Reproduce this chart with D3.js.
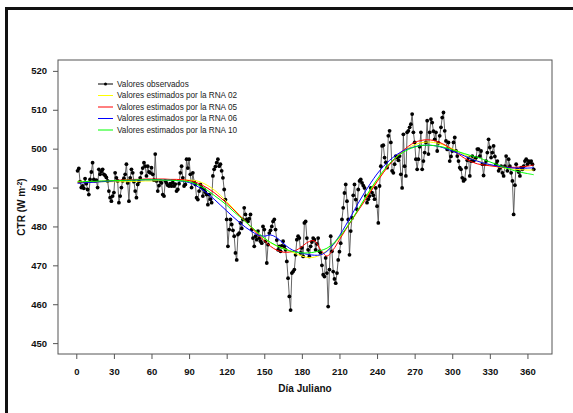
<!DOCTYPE html>
<html><head><meta charset="utf-8">
<script src="https://cdn.jsdelivr.net/npm/d3@7"></script>
<style>body{margin:0;background:#fff}svg{display:block;font-family:"Liberation Sans",Arial,sans-serif}</style>
</head><body>
<script>
// Observed daily values, days 1..365
const observed = [
494.3,494.9,491.5,490.0,490.4,489.8,492.3,491.0,489.5,488.2,
492.1,494.0,496.4,492.1,491.7,491.9,490.0,494.7,493.4,494.1,
494.7,493.4,493.1,492.6,491.7,489.1,487.4,486.5,487.8,488.7,
493.8,492.5,491.7,486.1,487.8,490.0,491.7,492.4,493.4,496.0,
491.2,486.5,492.5,494.7,493.8,491.5,489.1,487.4,490.8,491.5,
492.5,493.8,495.0,496.4,495.5,493.0,495.5,494.0,493.8,495.1,
493.4,491.9,498.6,491.7,489.1,490.5,491.7,491.2,488.2,487.8,
491.7,491.2,490.6,490.4,491.0,490.4,491.3,490.4,490.9,489.1,
489.5,491.0,493.8,495.5,492.5,490.4,490.8,497.3,495.0,497.3,
493.4,490.0,493.8,491.5,490.8,487.4,486.9,489.1,490.8,490.0,
487.8,489.5,488.8,488.2,485.6,488.2,487.0,486.1,493.0,494.7,
495.4,496.4,497.3,495.5,496.0,494.3,492.5,489.5,486.9,481.8,
474.9,479.2,481.8,480.5,479.0,477.5,473.2,471.4,477.9,478.3,
480.9,479.5,481.8,484.8,483.1,481.8,481.3,482.0,483.1,479.2,
477.0,474.9,477.5,476.6,478.8,477.0,476.2,475.7,480.0,479.2,
476.2,470.6,475.3,478.3,479.0,480.0,481.3,481.8,479.2,476.5,
474.0,474.9,473.6,475.0,476.2,474.9,474.0,471.0,466.7,462.0,
458.5,468.0,468.4,468.9,472.7,476.6,477.5,477.0,473.2,474.5,
472.3,480.9,481.3,477.0,474.0,472.3,474.9,476.0,477.0,476.6,
474.0,475.5,477.0,473.6,473.2,470.0,467.6,467.1,471.9,468.0,
459.4,468.9,477.5,473.6,468.4,466.5,465.4,468.0,471.4,473.5,
475.7,481.8,484.8,488.6,490.8,486.5,481.8,472.7,478.8,482.2,
488.0,490.8,486.9,484.4,489.5,491.7,492.1,491.2,490.5,489.9,
487.8,486.1,487.0,487.8,489.9,488.7,488.0,487.0,489.9,485.2,
480.9,490.4,495.5,500.7,500.9,497.7,496.5,495.1,503.3,504.6,
501.6,494.3,493.8,496.0,498.1,497.7,497.0,498.1,493.4,489.9,
503.7,495.5,493.0,504.2,504.6,505.5,506.3,508.9,504.2,501.6,
497.3,494.7,497.3,500.5,504.2,494.7,496.8,499.0,501.6,507.2,
498.6,504.2,507.6,506.7,504.5,502.4,504.2,499.4,501.5,503.3,
505.5,508.0,509.3,504.6,502.0,499.8,501.6,496.8,498.0,499.4,
501.6,502.9,499.4,498.1,496.8,495.1,494.7,492.5,491.7,492.1,
495.1,497.0,497.7,493.0,496.8,498.1,496.8,497.2,497.7,499.9,
499.9,498.1,499.4,496.0,493.1,496.0,496.8,499.0,502.4,500.3,
497.7,499.0,500.7,498.0,496.0,496.8,494.3,495.0,495.5,493.8,
493.0,495.5,498.1,494.3,497.3,495.5,493.8,491.7,483.1,490.6,
496.0,494.7,494.0,493.0,495.1,494.7,495.5,496.8,497.3,496.0,
496.8,496.5,496.8,496.0,494.7
];
const observedDays = observed.map((_, i) => i + 1);

// Estimated curves, sampled at these days
const curveDays = [1,5,10,15,20,25,30,35,40,45,50,55,60,65,70,75,80,85,90,95,
100,105,110,115,120,125,130,135,140,145,150,155,160,165,170,175,180,185,190,195,
200,205,210,215,220,225,230,235,240,245,250,255,260,265,270,275,280,285,290,295,
300,305,310,315,320,325,330,335,340,345,350,355,360,365];

const rna02 = [
491.6,491.6,491.5,491.5,491.5,491.5,491.5,491.5,491.5,491.6,
491.6,491.7,491.7,491.8,491.8,491.9,491.9,491.9,491.9,491.8,
491.3,490.5,489.4,488.0,486.4,484.7,483.0,481.3,479.7,478.2,
476.9,475.8,475.0,474.4,473.7,473.0,472.4,472.0,472.1,472.7,
473.8,475.2,477.1,479.3,481.7,484.3,486.9,489.4,491.8,494.0,
496.0,497.7,499.1,500.2,501.0,501.5,501.7,501.6,501.3,500.7,
500.0,499.2,498.4,497.6,496.9,496.3,495.8,495.4,495.1,494.9,
494.7,494.6,494.5,494.5];

const rna05 = [
491.3,491.3,491.4,491.5,491.6,491.7,491.8,491.9,492.0,492.1,
492.1,492.2,492.2,492.2,492.2,492.1,492.1,492.0,491.8,491.4,
490.7,489.8,488.7,487.4,486.0,484.5,482.9,481.3,479.6,477.9,
476.3,474.9,473.9,473.4,473.4,473.8,474.8,476.0,476.3,474.0,
472.4,474.0,476.6,479.2,481.7,484.1,486.5,489.0,491.5,493.8,
495.9,497.7,499.3,500.6,501.6,502.1,502.3,502.1,501.6,500.8,
499.8,498.6,497.5,496.7,496.1,495.8,495.6,495.4,495.3,495.2,
495.2,495.3,495.5,495.8];

const rna06 = [
491.1,491.2,491.3,491.4,491.5,491.6,491.7,491.8,491.8,491.9,
491.9,492.0,492.0,492.0,491.9,491.9,491.8,491.6,491.3,490.6,
489.6,488.4,487.0,485.5,484.0,482.5,481.1,479.8,478.7,477.8,
477.5,477.8,477.1,475.7,474.4,473.6,473.1,472.8,472.6,472.7,
473.6,475.3,477.6,480.3,483.1,486.0,488.7,491.2,493.5,495.4,
497.0,498.3,499.3,500.0,500.5,500.8,500.9,500.8,500.5,500.0,
499.4,498.8,498.1,497.4,496.8,496.3,495.9,495.6,495.3,495.1,
495.0,495.0,495.0,495.1];

const rna10 = [
491.5,491.5,491.6,491.6,491.7,491.7,491.8,491.8,491.9,491.9,
492.0,492.0,492.0,492.0,491.9,491.9,491.8,491.7,491.5,491.0,
490.2,489.2,488.0,486.8,485.5,484.0,482.6,481.2,479.8,478.4,
477.0,475.9,475.0,474.3,473.8,473.4,473.2,473.2,473.4,473.8,
474.4,475.6,477.3,479.4,481.8,484.4,487.1,489.7,492.1,494.3,
496.2,497.7,498.9,499.8,500.4,500.8,500.9,500.8,500.6,500.2,
499.7,499.2,498.7,498.2,497.8,497.2,496.6,496.0,495.4,494.8,
494.3,493.9,493.6,493.3];

const xTicks = [0,30,60,90,120,150,180,210,240,270,300,330,360];
const yTicks = [450,460,470,480,490,500,510,520];
const legendLabels = ["Valores observados","Valores estimados por la RNA 02","Valores estimados por la RNA 05","Valores estimados por la RNA 06","Valores estimados por la RNA 10"];
const seriesColors = ["#000000","#ffff00","#ff0000","#0000ff","#00ff00"];

const W = 573, H = 413;
const plot = {left: 58, right: 552, top: 60, bottom: 354};
const svg = d3.select("body").append("svg").attr("width", W).attr("height", H);

// outer frame (partial, as cropped in the reference)
svg.append("path").attr("d", `M6.5,${H} V8.5 H${W}`).attr("fill","none").attr("stroke","#111").attr("stroke-width",3);

const x = d3.scaleLinear().domain([0 - 365*0.04, 365*1.04]).range([plot.left, plot.right]);
const y = d3.scaleLinear().domain([450 - 70*0.04, 520 + 70*0.04]).range([plot.bottom, plot.top]);

// box
svg.append("rect").attr("x", plot.left).attr("y", plot.top)
  .attr("width", plot.right-plot.left).attr("height", plot.bottom-plot.top)
  .attr("fill","none").attr("stroke","#555").attr("stroke-width",1);

// axes
const xAxis = svg.append("g").attr("transform", `translate(0,${plot.bottom})`)
  .call(d3.axisBottom(x).tickValues(xTicks).tickSize(5).tickPadding(9));
const yAxis = svg.append("g").attr("transform", `translate(${plot.left},0)`)
  .call(d3.axisLeft(y).tickValues(yTicks).tickSize(5).tickPadding(6));
[xAxis, yAxis].forEach(a => {
  a.select(".domain").remove();
  a.selectAll(".tick line").attr("stroke","#555");
  a.selectAll(".tick text").attr("font-size","9.5px").attr("font-weight","bold")
    .attr("fill","#111").attr("font-family","'Liberation Sans',Arial,sans-serif");
});

// axis titles
svg.append("text").attr("x", (x(0)+x(365))/2).attr("y", 392).attr("text-anchor","middle")
  .attr("font-size","10px").attr("font-weight","bold").attr("fill","#111").text("Día Juliano");
const yl = svg.append("text").attr("transform", `translate(25,${(plot.top+plot.bottom)/2}) rotate(-90)`)
  .attr("text-anchor","middle").attr("font-size","10px").attr("font-weight","bold").attr("fill","#111");
yl.append("tspan").text("CTR (W m");
yl.append("tspan").attr("baseline-shift","super").attr("font-size","7px").text("-2");
yl.append("tspan").text(")");

// observed
const obsData = observedDays.map((d,i)=>[d, observed[i]]);
const line = d3.line().x(d=>x(d[0])).y(d=>y(d[1]));
svg.append("path").datum(obsData).attr("d", line).attr("fill","none").attr("stroke","#555").attr("stroke-width",0.9);
svg.append("g").selectAll("circle").data(obsData).join("circle")
  .attr("cx", d=>x(d[0])).attr("cy", d=>y(d[1])).attr("r", 1.9).attr("fill","#000");

// curves
const cline = d3.line().x(d=>x(d[0])).y(d=>y(d[1])).curve(d3.curveCatmullRom.alpha(0.5));
const curves = [rna02, rna05, rna06, rna10];
curves.forEach((vals, k) => {
  svg.append("path").datum(curveDays.map((d,i)=>[d, vals[i]])).attr("d", cline)
    .attr("fill","none").attr("stroke", seriesColors[k+1]).attr("stroke-width",1);
});

// legend
const lg = svg.append("g");
legendLabels.forEach((lab, i) => {
  const yy = 84 + i*11.5;
  lg.append("line").attr("x1", 98).attr("x2", 113).attr("y1", yy).attr("y2", yy)
    .attr("stroke", i===0 ? "#000" : seriesColors[i]).attr("stroke-width", 1);
  if (i===0) lg.append("circle").attr("cx", 105.5).attr("cy", yy).attr("r", 1.5).attr("fill","#000");
  lg.append("text").attr("x", 117).attr("y", yy).attr("dy","0.35em").attr("font-size","8.2px")
    .attr("fill","#222").text(lab);
});
</script>
</body></html>
